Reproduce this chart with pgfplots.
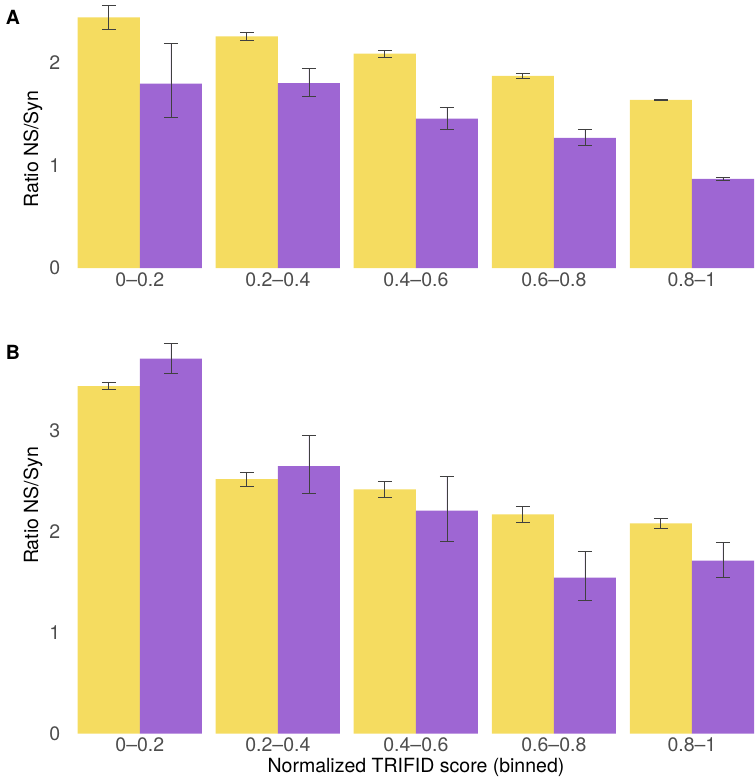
\documentclass[border=0pt]{standalone}
\usepackage{pgfplots}
\pgfplotsset{compat=1.18}
\usepackage{pgfplotstable}
\usepackage{fontspec}
\setmainfont{TeX Gyre Heros}
\definecolor{ylw}{HTML}{F5DC60}
\definecolor{prp}{HTML}{9E66D3}
\definecolor{tickgray}{HTML}{4D4D4D}

% x  y  ep  em
\pgfplotstableread{
x y ep em
-0.225 2.44 0.12 0.12
0.775 2.255 0.04 0.04
1.775 2.088 0.032 0.032
2.775 1.870 0.025 0.025
3.775 1.636 0.004 0.004
}\Ayel
\pgfplotstableread{
x y ep em
0.225 1.795 0.39 0.33
1.225 1.800 0.144 0.132
2.225 1.454 0.11 0.105
3.225 1.268 0.081 0.075
4.225 0.868 0.017 0.012
}\Apur
\pgfplotstableread{
x y ep em
-0.225 3.44 0.04 0.032
0.775 2.52 0.07 0.07
1.775 2.418 0.079 0.076
2.775 2.170 0.082 0.079
3.775 2.081 0.05 0.049
}\Byel
\pgfplotstableread{
x y ep em
0.225 3.711 0.152 0.149
1.225 2.648 0.302 0.27
2.225 2.206 0.337 0.30
3.225 1.543 0.261 0.224
4.225 1.711 0.185 0.164
}\Bpur

\pgfplotsset{
  myaxis/.style={
    scale only axis,
    width=676.3bp,
    axis line style={draw=none},
    ybar, bar width=0.45, bar shift=0pt,
    xmin=-0.45, xmax=4.45, ymin=0,
    xtick={0,1,2,3,4},
    xticklabels={0--0.2,0.2--0.4,0.4--0.6,0.6--0.8,0.8--1},
    major tick length=0pt,
    tick style={draw=none},
    ticklabel style={font=\fontsize{19.5bp}{23bp}\selectfont, text=tickgray},
    /pgf/number format/assume math mode=true,
    xticklabel style={yshift=-3bp, inner sep=1bp},
    yticklabel style={xshift=-14bp},
    clip=false,
    error bars/error bar style={line width=0.7bp, draw=black!75},
    error bars/error mark options={rotate=90, mark size=7bp, line width=0.7bp, draw=black!75},
  },
  ybarY/.style={fill=ylw, draw=none},
  ybarP/.style={fill=prp, draw=none},
}

\begin{document}
\begin{tikzpicture}
\path[use as bounding box] (0,0) rectangle (756bp,-777bp);
\begin{axis}[myaxis, at={(77.7bp,-268bp)}, anchor=south west,
  height=267bp, ymax=2.6, ytick={0,1,2}]
\addplot[ybarY, error bars/.cd, y dir=both, y explicit]
  table[x=x, y=y, y error plus=ep, y error minus=em]{\Ayel};
\addplot[ybarP, error bars/.cd, y dir=both, y explicit]
  table[x=x, y=y, y error plus=ep, y error minus=em]{\Apur};
\end{axis}
\begin{axis}[myaxis, at={(77.7bp,-733.5bp)}, anchor=south west,
  height=395.9bp, ymax=3.92, ytick={0,1,2,3}]
\addplot[ybarY, error bars/.cd, y dir=both, y explicit]
  table[x=x, y=y, y error plus=ep, y error minus=em]{\Byel};
\addplot[ybarP, error bars/.cd, y dir=both, y explicit]
  table[x=x, y=y, y error plus=ep, y error minus=em]{\Bpur};
\end{axis}
\node[font=\fontsize{19.5bp}{23bp}\selectfont\bfseries] at (13bp,-17bp) {A};
\node[font=\fontsize{19.5bp}{23bp}\selectfont\bfseries] at (13bp,-352.7bp) {B};
\node[rotate=90, font=\fontsize{19.5bp}{23bp}\selectfont] at (33bp,-149bp) {Ratio NS/Syn};
\node[rotate=90, font=\fontsize{19.5bp}{23bp}\selectfont] at (33bp,-505.5bp) {Ratio NS/Syn};
\node[font=\fontsize{19.5bp}{23bp}\selectfont, inner sep=1bp] at (416bp,-767bp) {Normalized TRIFID score (binned)};
\end{tikzpicture}
\end{document}
